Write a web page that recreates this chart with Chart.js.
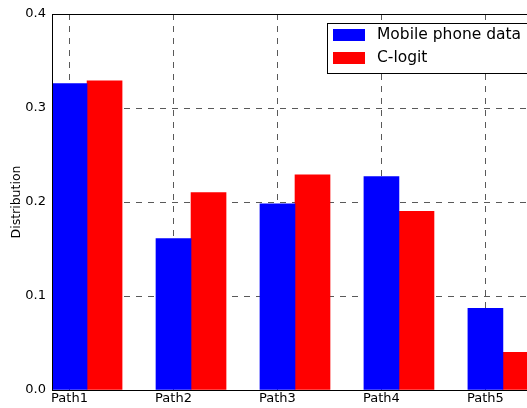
<!DOCTYPE html>
<html>
<head>
<meta charset="utf-8">
<script src="https://cdn.jsdelivr.net/npm/chart.js@4"></script>
<style>
    html, body { margin: 0; padding: 0; background: #fff; }
    #wrap { width: 527px; height: 408px; overflow: hidden; position: relative; }
    canvas { display: block; }
</style>
</head>
<body>
<div id="wrap"><canvas id="myChart" width="560" height="408"></canvas></div>
<script>
    // dados
    const categorias = ['Path1', 'Path2', 'Path3', 'Path4', 'Path5'];
    const celular = [0.326, 0.161, 0.198, 0.227, 0.087];
    const clogit = [0.329, 0.210, 0.229, 0.190, 0.040];
    const yTicks = [0.0, 0.1, 0.2, 0.3, 0.4];
    const nomes = ['Mobile phone data', 'C-logit'];

    const LARGURA = 0.337; // largura da barra em unidades do eixo x
    const fonte = 'DejaVu Sans';

    // legenda desenhada dentro do gráfico, estilo matplotlib
    const legendaInterna = {
        id: 'legendaInterna',
        afterDraw(chart) {
            const ctx = chart.ctx;
            const area = chart.chartArea;
            ctx.save();
            // moldura do gráfico
            ctx.strokeStyle = '#000';
            ctx.lineWidth = 1;
            ctx.strokeRect(area.left + 0.5, area.top + 0.5, area.right - area.left, area.bottom - area.top);

            const x0 = area.left + 275, y0 = area.top + 9;
            ctx.fillStyle = '#fff';
            ctx.fillRect(x0, y0, 215, 50);
            ctx.strokeStyle = '#000';
            ctx.strokeRect(x0 + 0.5, y0 + 0.5, 215, 50);
            ctx.font = '15.5px "' + fonte + '"';
            ctx.textBaseline = 'middle';
            chart.data.datasets.forEach((ds, i) => {
                const yy = y0 + 6 + i * 23;
                ctx.fillStyle = ds.backgroundColor;
                ctx.fillRect(x0 + 6, yy, 32, 12);
                ctx.fillStyle = '#000';
                ctx.fillText(ds.label, x0 + 50, yy + 6);
            });
            ctx.restore();
        }
    };

    const ctx = document.getElementById('myChart');
    const myChart = new Chart(ctx, {
        type: 'bar',
        data: {
            datasets: [{
                label: nomes[0],
                data: celular.map((v, i) => ({ x: i, y: v })),
                backgroundColor: '#0000ff',
                borderWidth: 0,
            }, {
                label: nomes[1],
                data: clogit.map((v, i) => ({ x: i + LARGURA, y: v })),
                backgroundColor: '#ff0000',
                borderWidth: 0,
            }],
        },
        options: {
            responsive: false,
            animation: false,
            grouped: false,
            barThickness: 35,
            layout: { padding: { left: 0, top: 14, right: 7, bottom: 0 } },
            plugins: {
                legend: { display: false },
                tooltip: { enabled: false },
            },
            scales: {
                x: {
                    type: 'linear',
                    offset: false,
                    min: -LARGURA / 2,
                    max: 4.65,
                    afterBuildTicks: (scale) => {
                        scale.ticks = categorias.map((c, i) => ({ value: i }));
                    },
                    afterFit: (scale) => { scale.height = 18; },
                    ticks: {
                        callback: (v) => categorias[v],
                        color: '#000',
                        font: { family: fonte, size: 13 },
                        padding: 1,
                        maxRotation: 0,
                        autoSkip: false,
                    },
                    grid: {
                        offset: false,
                        color: 'rgba(0,0,0,0.65)',
                        lineWidth: 1,
                        drawTicks: false,
                    },
                    border: { display: false, dash: [6, 6] },
                },
                y: {
                    min: 0,
                    max: 0.4,
                    afterBuildTicks: (scale) => {
                        scale.ticks = yTicks.map((v) => ({ value: v }));
                    },
                    afterFit: (scale) => { scale.width = 52; },
                    ticks: {
                        callback: (v) => v.toFixed(1),
                        color: '#000',
                        font: { family: fonte, size: 13 },
                        padding: 6,
                    },
                    grid: {
                        color: 'rgba(0,0,0,0.65)',
                        lineWidth: 1,
                        drawTicks: false,
                    },
                    border: { display: false, dash: [6, 6] },
                    title: {
                        display: true,
                        text: 'Distribution',
                        color: '#000',
                        font: { family: fonte, size: 12.5 },
                        padding: { top: 9, bottom: 0 },
                    },
                },
            },
        },
        plugins: [legendaInterna],
    });
</script>
</body>
</html>
